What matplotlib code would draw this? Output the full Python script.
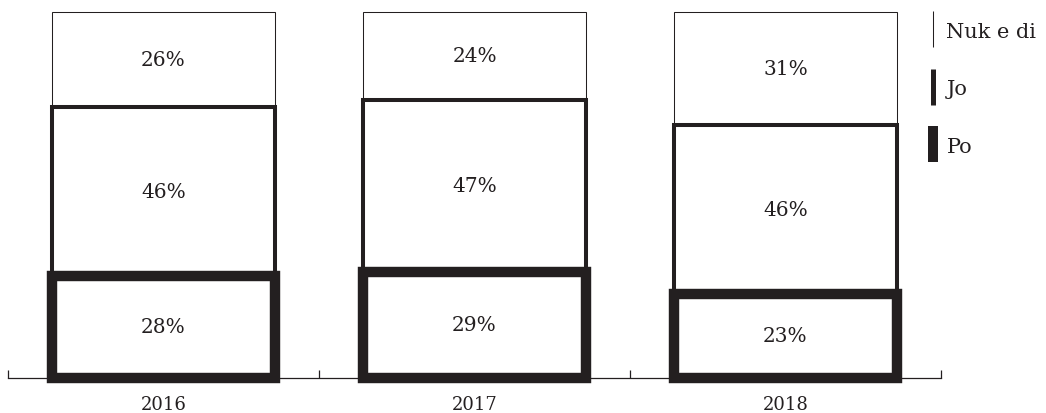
import matplotlib
matplotlib.use("Agg")
import matplotlib.pyplot as plt
from matplotlib.lines import Line2D
import numpy as np

years = ["2016", "2017", "2018"]
series_names = ["Po", "Jo", "Nuk e di"]
po = [28, 29, 23]
jo = [46, 47, 46]
nuk = [26, 24, 31]

INK = "#231f20"
plt.rcParams["font.family"] = ["DejaVu Serif"]

fig = plt.figure(figsize=(10.46, 4.14), dpi=100)
ax = fig.add_axes([8 / 1046, 1 - 379 / 414, (941 - 8) / 1046, (379 - 13) / 414])

x = np.arange(len(years))
width = 0.72
po_a = np.array(po) / 100
jo_a = np.array(jo) / 100
nuk_a = np.array(nuk) / 100

layers = [
    (nuk_a, po_a + jo_a, 0.75, 2),
    (jo_a, po_a, 2.9, 3),
    (po_a, np.zeros(3), 7.5, 4),
]
for vals, bottoms, lw, z in layers:
    bars = ax.bar(x, vals, width, bottom=bottoms, facecolor="white",
                  edgecolor=INK, linewidth=lw, zorder=z)
    for b in bars:
        b.set_clip_on(False)

for vals, bottoms in [(po_a, np.zeros(3)), (jo_a, po_a), (nuk_a, po_a + jo_a)]:
    for xi, v, b in zip(x, vals, bottoms):
        ax.text(xi, b + v / 2, f"{round(v * 100)}%", ha="center", va="center",
                fontsize=14.5, color=INK, zorder=6)

ax.set_xlim(-0.5, 2.5)
ax.set_ylim(0, 1)
for s in ["top", "right", "left"]:
    ax.spines[s].set_visible(False)
ax.spines["bottom"].set_color(INK)
ax.spines["bottom"].set_linewidth(0.9)
ax.spines["bottom"].set_zorder(1)
ax.set_yticks([])
ax.set_xticks(x)
ax.set_xticklabels(years, fontsize=13, color=INK)
ax.tick_params(axis="x", which="major", length=0, pad=12)
ax.set_xticks(np.arange(-0.5, 3, 1), minor=True)
ax.tick_params(axis="x", which="minor", direction="in", length=6, width=0.9, color=INK)

handles = [
    Line2D([], [], marker="|", linestyle="none", markersize=26, markeredgewidth=0.75, color=INK),
    Line2D([], [], marker="|", linestyle="none", markersize=26, markeredgewidth=3.6, color=INK),
    Line2D([], [], marker="|", linestyle="none", markersize=26, markeredgewidth=7.2, color=INK),
]
leg = ax.legend(handles, ["Nuk e di", "Jo", "Po"], loc="upper left",
                bbox_to_anchor=(910 / 1046, 1 - 6 / 414), bbox_transform=fig.transFigure,
                frameon=False, fontsize=15, handlelength=0.6, handletextpad=0.35,
                labelspacing=1.85, borderpad=0.3, labelcolor=INK)

fig.savefig("out.png", dpi=100)
